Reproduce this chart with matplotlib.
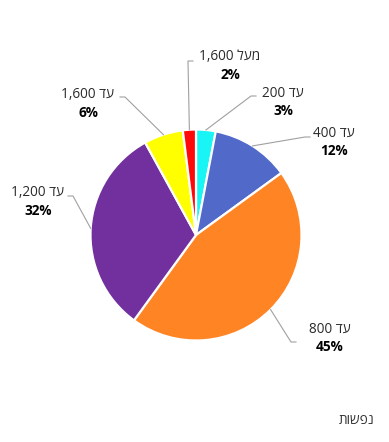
import matplotlib
matplotlib.use("Agg")
import matplotlib.pyplot as plt
import numpy as np

# Hebrew labels written in visual (left-to-right display) order
labels = ["200 דע", "400 דע", "800 דע", "1,200 דע", "1,600 דע", "1,600 לעמ"]
values = [3, 12, 45, 32, 6, 2]
pct_labels = ["3%", "12%", "45%", "32%", "6%", "2%"]
colors = ["#19F4F4", "#5169C9", "#FF8424", "#71309D", "#FFFF00", "#FF0A0A"]
footer = "תושפנ"

FAM = ["Open Sans", "DejaVu Sans"]

W, H = 389, 442
fig = plt.figure(figsize=(W / 100, H / 100), dpi=100)
ax = fig.add_axes([0, 0, 1, 1])

cx, cy, R = 196, H - 235, 105.5
explode = [0, 0, 0.02, 0, 0, 0]
wedges, _ = ax.pie(values, colors=colors, startangle=90, counterclock=False,
                   center=(cx, cy), radius=R, frame=True, explode=explode,
                   wedgeprops=dict(edgecolor="white", linewidth=1.6))
ax.set_xlim(0, W)
ax.set_ylim(0, H)
ax.set_aspect("equal")
ax.axis("off")

# label layout (text anchor px positions, elbow positions)
text_pos = [(283, 93), (334, 133), (330, 329), (38, 193), (88, 95), (230, 57)]
elbow = [(251, 96), (305, 137), (291, 342), (73, 196), (125, 97), (188, 61)]
side = [1, 1, 1, -1, -1, 1]

for i, w in enumerate(wedges):
    ang = np.deg2rad((w.theta1 + w.theta2) / 2)
    px, py = cx + R * np.cos(ang), cy + R * np.sin(ang)
    ex, ey = elbow[i][0], H - elbow[i][1]
    hx = ex + 5 * side[i]
    ax.plot([px, ex, hx], [py, ey, ey], color="#A0A0A0", lw=0.8)
    tx, ty = text_pos[i]
    ax.text(tx, H - ty, labels[i], ha="center", va="center", fontsize=9.8,
            family=FAM, color="#2A2A2A")
    ax.text(tx, H - ty - 18, pct_labels[i], ha="center", va="center",
            fontsize=9.8, fontweight="bold", family=FAM, color="#000000")

ax.text(357, H - 420, footer, ha="center", va="center", fontsize=9.8,
        family=FAM, color="#333333")

fig.savefig("out.png", dpi=100)
